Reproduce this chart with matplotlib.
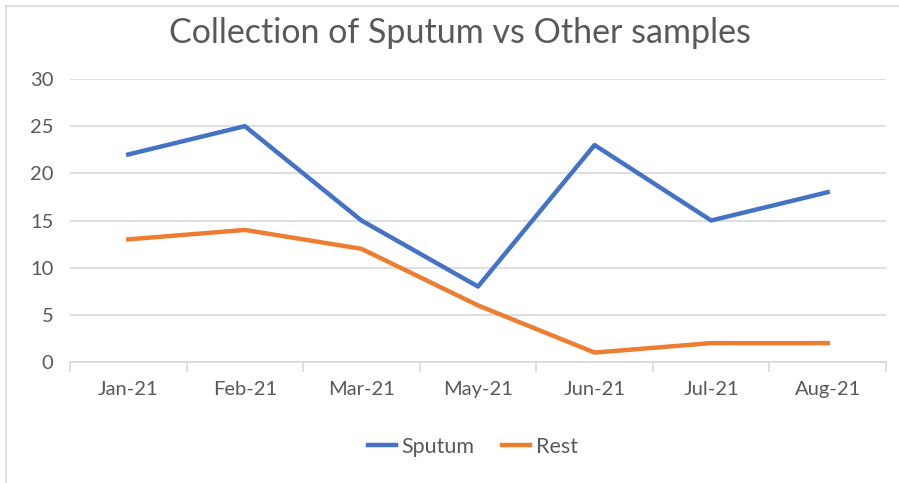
import matplotlib
matplotlib.use("Agg")
import matplotlib.pyplot as plt
from matplotlib.patches import Rectangle
import numpy as np

months = ["Jan-21", "Feb-21", "Mar-21", "May-21", "Jun-21", "Jul-21", "Aug-21"]
sputum = [22, 25, 15, 8, 23, 15, 18]
rest = [13, 14, 12, 6, 1, 2, 2]
y_ticks = [0, 5, 10, 15, 20, 25, 30]

plt.rcParams["font.family"] = ["Lato", "DejaVu Sans"]
text_color = "#595959"
grid_color = "#D9D9D9"

W, H = 899, 483
fig = plt.figure(figsize=(W / 100, H / 100), dpi=100)

# chart frame
fig.patches.append(Rectangle((6 / W, -0.1), 1.2, 1 - 6 / H + 0.1, transform=fig.transFigure,
                             fill=False, edgecolor="#D9D9D9", linewidth=1.2))

ax = fig.add_axes([70 / W, 1 - 362 / H, (886 - 70) / W, (362 - 79) / H])
x = np.arange(len(months))

ax.plot(x, sputum, color="#4472C4", linewidth=3.2, label="Sputum", solid_joinstyle="round")
ax.plot(x, rest, color="#ED7D31", linewidth=3.2, label="Rest", solid_joinstyle="round")

ax.set_xlim(-0.5, len(months) - 0.5)
ax.set_ylim(0, 30)
ax.set_yticks(y_ticks)
ax.set_xticks(x)
ax.set_xticklabels(months)
ax.set_xticks(np.arange(-0.5, len(months)), minor=True)

for s in ["top", "right", "left"]:
    ax.spines[s].set_visible(False)
ax.spines["bottom"].set_color(grid_color)
ax.spines["bottom"].set_linewidth(1.2)

ax.yaxis.grid(True, color=grid_color, linewidth=1.2)
ax.set_axisbelow(True)
ax.tick_params(axis="y", length=0, pad=12, labelsize=14.5, labelcolor=text_color)
ax.tick_params(axis="x", which="major", length=0, pad=14, labelsize=14.5, labelcolor=text_color)
ax.tick_params(axis="x", which="minor", length=7, width=1.2, color=grid_color)

fig.text(460 / W, 1 - 33 / H, "Collection of Sputum vs Other samples", ha="center", va="center",
         fontsize=24.5, color=text_color)

leg = ax.legend(loc="center", bbox_to_anchor=(473 / W, 1 - 447 / H), bbox_transform=fig.transFigure,
                ncol=2, frameon=False, fontsize=15.5, handlelength=1.3, columnspacing=1.3,
                handletextpad=0.25)
for t in leg.get_texts():
    t.set_color(text_color)

fig.savefig("out.png", dpi=100, facecolor="white")
